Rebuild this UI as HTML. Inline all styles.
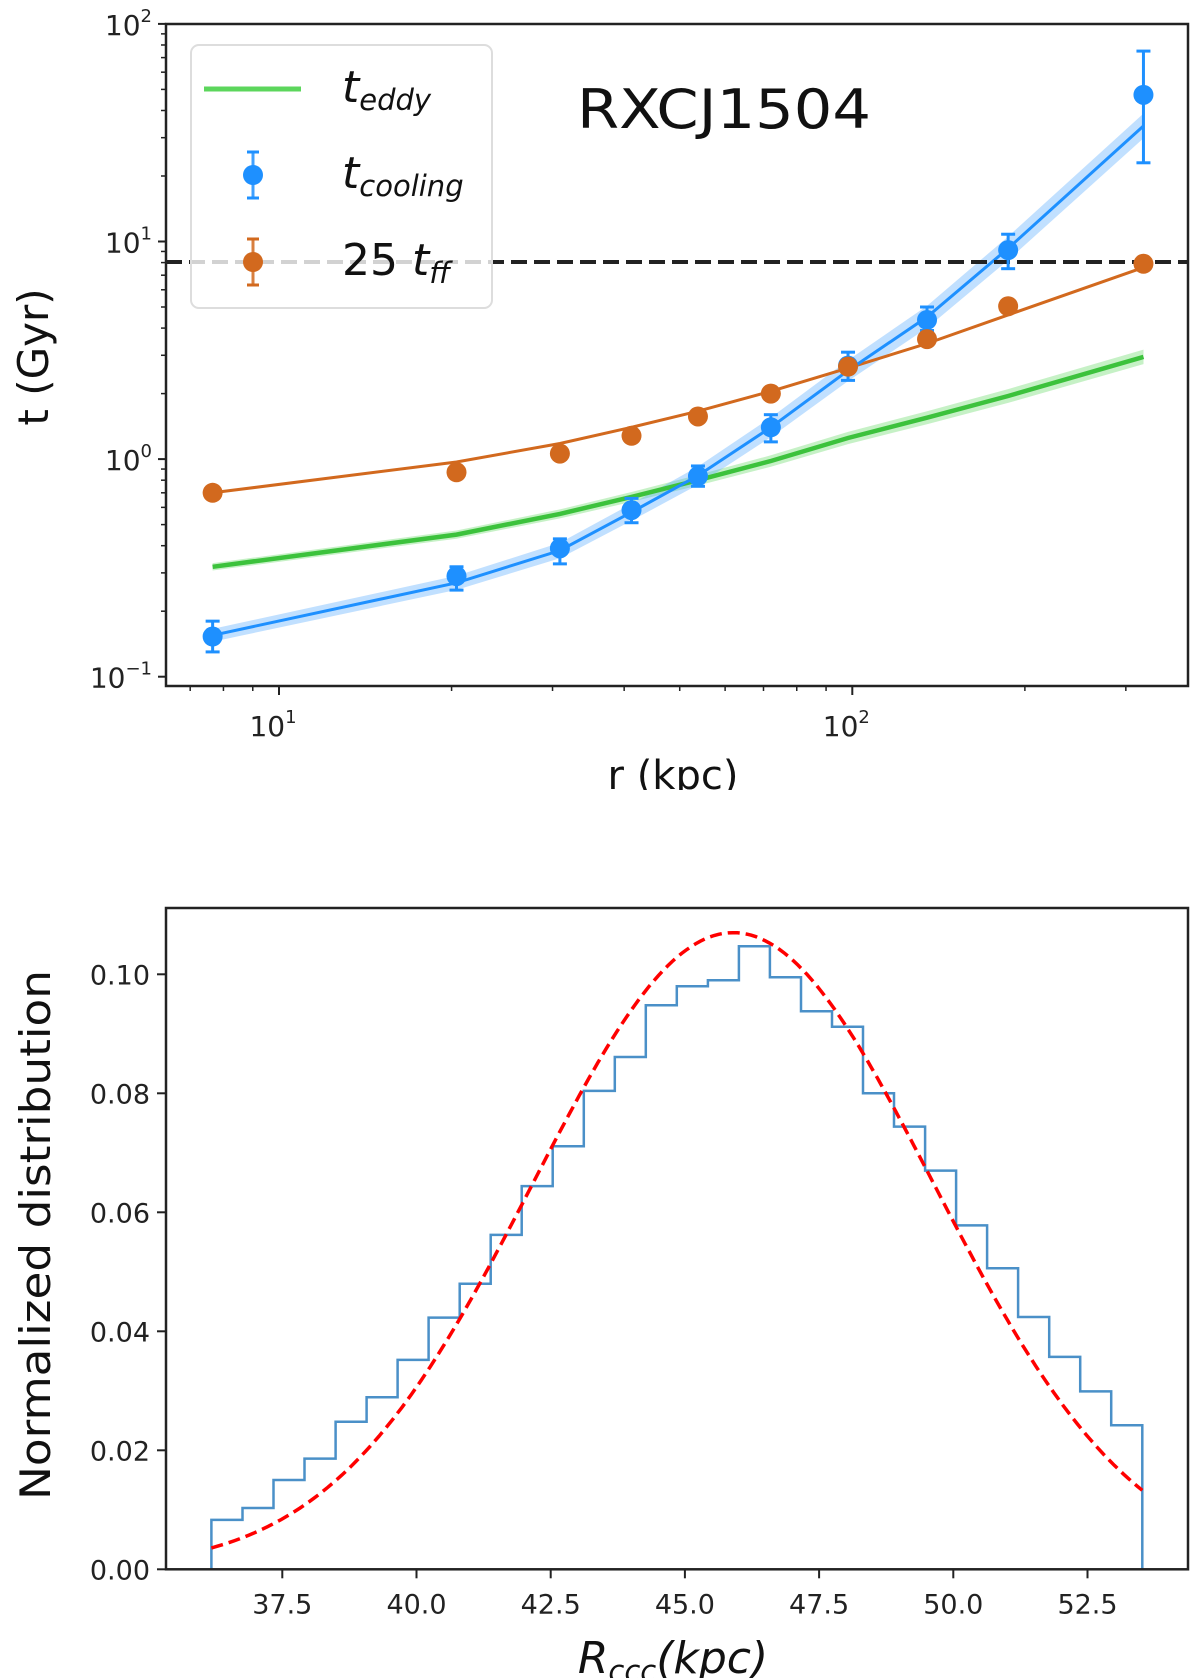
<!DOCTYPE html>
<html><head><meta charset="utf-8">
<style>
html,body{margin:0;padding:0;background:#fff;}
svg{display:block;font-family:"DejaVu Sans","Liberation Sans",sans-serif;}
</style></head>
<body>
<svg id="fig" width="1200" height="1678" viewBox="0 0 1200 1678" xmlns="http://www.w3.org/2000/svg">
<defs>
<clipPath id="topclip"><rect x="0" y="0" width="1200" height="790"/></clipPath>
<clipPath id="ax1clip"><rect x="166" y="24" width="1022" height="662"/></clipPath>
<clipPath id="ax2clip"><rect x="166" y="908" width="1022" height="662"/></clipPath>
</defs>
<g id="topchart"></g>
<g id="botchart"></g>
</svg>
<script>
// ---------- Top chart data ----------
const radii = [7.66, 20.4, 30.9, 41.2, 53.8, 72.1, 98.3, 135, 187, 322];
const coolPts = [0.153, 0.29, 0.389, 0.583, 0.835, 1.40, 2.69, 4.36, 9.13, 47.2];
const coolLo = [0.13, 0.25, 0.33, 0.51, 0.75, 1.2, 2.3, 3.9, 7.5, 23];
const coolHi = [0.18, 0.32, 0.43, 0.66, 0.93, 1.6, 3.1, 5.0, 10.8, 75];
const coolLine = [0.155, 0.27, 0.38, 0.57, 0.84, 1.4, 2.55, 4.5, 9.3, 34];
const ffPts = [0.70, 0.87, 1.06, 1.28, 1.57, 2.0, 2.66, 3.56, 5.04, 7.9];
const ffLine = [0.70, 0.97, 1.18, 1.40, 1.66, 2.05, 2.62, 3.4, 4.6, 7.6];
const eddyLine = [0.32, 0.45, 0.56, 0.67, 0.80, 0.98, 1.25, 1.55, 1.95, 2.95];
const thresholdT = [8.05];
const xTickLabels = ["10", "10"];
const xTickExps = ["1", "2"];
const yTickExps = ["2", "1", "0", "−1"];

// ---------- Bottom chart data ----------
const binStart = [36.18];
const binEnd = [53.52];
const histValues = [0.0083,0.0103,0.0150,0.0186,0.0248,0.0289,0.0352,0.0423,0.0480,0.0562,0.0644,0.0711,0.0804,0.0861,0.0948,0.0980,0.0990,0.1047,0.0995,0.0938,0.0912,0.0800,0.0744,0.0670,0.0578,0.0506,0.0424,0.0357,0.0299,0.0242];
const fitParams = [0.107, 45.9, 3.73]; // amplitude, mean, sigma of fitted gaussian
const xTicks2 = ["37.5","40.0","42.5","45.0","47.5","50.0","52.5"];
const yTicks2 = ["0.00","0.02","0.04","0.06","0.08","0.10"];

const NS = "http://www.w3.org/2000/svg";
function mk(parent, tag, attrs, text){
  const e = document.createElementNS(NS, tag);
  for (const k in attrs) e.setAttribute(k, attrs[k]);
  if (text !== undefined) e.textContent = text;
  parent.appendChild(e);
  return e;
}

// ---------- Top chart ----------
const topG = document.getElementById('topchart');
topG.setAttribute('clip-path','url(#topclip)');
const L1=166,R1=1188,T1=24,B1=686;
const X1 = r => 279 + (Math.log10(r)-1)*573.3;
const Y1 = t => 676.7 - (Math.log10(t)+1)*217.6;

const plot1 = mk(topG,'g',{'clip-path':'url(#ax1clip)'});



function pathFrom(xs, ys, X, Y){ return xs.map((x,i)=>(i?'L':'M')+X(x).toFixed(1)+','+Y(ys[i]).toFixed(1)).join(' '); }

function band(vals, color, frac, name){
  const up = radii.map((r,i)=>X1(r).toFixed(1)+','+Y1(vals[i]*(1+frac*(1+i/9))).toFixed(1));
  const dn = radii.map((r,i)=>X1(r).toFixed(1)+','+Y1(vals[i]/(1+frac*(1+i/9))).toFixed(1)).reverse();
  const p = mk(plot1,'polygon',{points:up.concat(dn).join(' '),fill:color,opacity:0.35});
  
  
}
band(eddyLine,'#5cd65c',0.04,'eddy-band');
band(coolLine,'#4da6ff',0.07,'cooling-band');

const le = mk(plot1,'path',{d:pathFrom(radii,eddyLine,X1,Y1),fill:'none',stroke:'#3cc23c','stroke-width':4.5});


const lf = mk(plot1,'path',{d:pathFrom(radii,ffLine,X1,Y1),fill:'none',stroke:'#d2691e','stroke-width':3});


const lc = mk(plot1,'path',{d:pathFrom(radii,coolLine,X1,Y1),fill:'none',stroke:'#1e90ff','stroke-width':3});



const th = mk(plot1,'line',{x1:L1,x2:R1,y1:Y1(thresholdT[0]),y2:Y1(thresholdT[0]),stroke:'#222','stroke-width':4,'stroke-dasharray':'16,7'});



radii.forEach((r,i)=>{
  const g = mk(plot1,'g',{});
  
  
  const x=X1(r);
  mk(g,'line',{x1:x,x2:x,y1:Y1(coolLo[i]),y2:Y1(coolHi[i]),stroke:'#1e90ff','stroke-width':3});
  mk(g,'line',{x1:x-7,x2:x+7,y1:Y1(coolLo[i]),y2:Y1(coolLo[i]),stroke:'#1e90ff','stroke-width':3});
  mk(g,'line',{x1:x-7,x2:x+7,y1:Y1(coolHi[i]),y2:Y1(coolHi[i]),stroke:'#1e90ff','stroke-width':3});
  mk(g,'circle',{cx:x,cy:Y1(coolPts[i]),r:10,fill:'#1e90ff'});
});
radii.forEach((r,i)=>{
  const c = mk(plot1,'circle',{cx:X1(r),cy:Y1(ffPts[i]),r:10,fill:'#d2691e'});
  
  
});

const fr1 = mk(topG,'rect',{x:L1,y:T1,width:R1-L1,height:B1-T1,fill:'none',stroke:'#222','stroke-width':2.5});



[2,1,0,-1].forEach((e,i)=>{
  const y=Y1(Math.pow(10,e));
  mk(topG,'line',{x1:L1-8,x2:L1,y1:y,y2:y,stroke:'#222','stroke-width':2});
  const t=mk(topG,'text',{x:L1-14,y:y+11,'text-anchor':'end','font-size':28,fill:'#222'});
  
  
  mk(t,'tspan',{},'10');
  mk(t,'tspan',{dy:-13,'font-size':18},yTickExps[i]);
  if(e>-1) for(let m=2;m<=9;m++){ const ym=Y1(Math.pow(10,e-1)*m); mk(topG,'line',{x1:L1-5,x2:L1,y1:ym,y2:ym,stroke:'#222','stroke-width':1.5}); }
});
[1,2].forEach((e,i)=>{
  const x=X1(Math.pow(10,e));
  mk(topG,'line',{x1:x,x2:x,y1:B1,y2:B1+9,stroke:'#222','stroke-width':2});
  const t=mk(topG,'text',{x:x-6,y:B1+50,'text-anchor':'middle','font-size':28,fill:'#222'});
  
  
  mk(t,'tspan',{},xTickLabels[i]);
  mk(t,'tspan',{dy:-13,'font-size':18},xTickExps[i]);
});
[7,8,9,20,30,40,50,60,70,80,90,200,300].forEach(v=>{
  const x=X1(v); if(x>L1) mk(topG,'line',{x1:x,x2:x,y1:B1,y2:B1+5,stroke:'#222','stroke-width':1.5});
});

const lg = mk(topG,'g',{});


mk(lg,'rect',{x:191,y:45,width:301,height:263,rx:8,fill:'#fff','fill-opacity':0.8,stroke:'#ddd','stroke-width':2});
mk(lg,'line',{x1:204,x2:301,y1:89,y2:89,stroke:'#5cd65c','stroke-width':5});
[['#1e90ff',175],['#d2691e',262]].forEach(([c,y])=>{
  mk(lg,'line',{x1:253,x2:253,y1:y-23,y2:y+23,stroke:c,'stroke-width':3,opacity:0.85});
  mk(lg,'line',{x1:247,x2:259,y1:y-23,y2:y-23,stroke:c,'stroke-width':3});
  mk(lg,'line',{x1:247,x2:259,y1:y+23,y2:y+23,stroke:c,'stroke-width':3});
  mk(lg,'circle',{cx:253,cy:y,r:10,fill:c});
});
function legText(y, pre, sub, name){
  const t=mk(lg,'text',{x:342,y:y,'font-size':44,fill:'#111'});
  
  
  if(pre) mk(t,'tspan',{},pre);
  mk(t,'tspan',{'font-style':'italic'},'t');
  mk(t,'tspan',{'font-style':'italic','font-size':29,dy:8},sub);
}
legText(102,'','eddy','legend-eddy');
legText(188,'','cooling','legend-cooling');
legText(275,'25 ','ff','legend-freefall');

const title = mk(topG,'text',{x:577,y:128,'font-size':54,fill:'#111',textLength:294,lengthAdjust:'spacingAndGlyphs'},'RXCJ1504');


const yl1 = mk(topG,'text',{x:0,y:0,'font-size':42,fill:'#111','text-anchor':'middle',transform:'translate(48,357) rotate(-90)'},'t (Gyr)');


const xl1 = mk(topG,'text',{x:673,y:789,'font-size':40,fill:'#111','text-anchor':'middle'},'r (kpc)');



// ---------- Bottom chart ----------
const botG = document.getElementById('botchart');
const L2=166,R2=1188,T2=908,B2=1569.3;
const X2 = v => 282.3 + (v-37.5)*53.68;
const Y2 = v => B2 - v*5950;
const plot2 = mk(botG,'g',{'clip-path':'url(#ax2clip)'});



const nBins = histValues.length;
const bw = (binEnd[0]-binStart[0])/nBins;
let hd = 'M'+X2(binStart[0]).toFixed(1)+','+B2;
histValues.forEach((v,i)=>{
  hd += ' L'+X2(binStart[0]+i*bw).toFixed(1)+','+Y2(v).toFixed(1)+' L'+X2(binStart[0]+(i+1)*bw).toFixed(1)+','+Y2(v).toFixed(1);
});
hd += ' L'+X2(binEnd[0]).toFixed(1)+','+B2;
const hist = mk(plot2,'path',{d:hd,fill:'none',stroke:'#4a90c8','stroke-width':2.5});



let fd='';
for(let k=0;k<=200;k++){
  const x = binStart[0] + (binEnd[0]-binStart[0])*k/200;
  const y = fitParams[0]*Math.exp(-Math.pow(x-fitParams[1],2)/(2*fitParams[2]*fitParams[2]));
  fd += (k?' L':'M')+X2(x).toFixed(1)+','+Y2(y).toFixed(1);
}
const fit = mk(plot2,'path',{d:fd,fill:'none',stroke:'#ff0000','stroke-width':3.5,'stroke-dasharray':'12,6'});



const fr2 = mk(botG,'rect',{x:L2,y:T2,width:R2-L2,height:B2-T2,fill:'none',stroke:'#222','stroke-width':2.5});



xTicks2.forEach(s=>{
  const x=X2(parseFloat(s));
  mk(botG,'line',{x1:x,x2:x,y1:B2,y2:B2+9,stroke:'#222','stroke-width':2});
  const t=mk(botG,'text',{x:x,y:B2+44,'text-anchor':'middle','font-size':27,fill:'#222'},s);
  
  
});
yTicks2.forEach(s=>{
  const y=Y2(parseFloat(s));
  mk(botG,'line',{x1:L2-9,x2:L2,y1:y,y2:y,stroke:'#222','stroke-width':2});
  const t=mk(botG,'text',{x:L2-16,y:y+10,'text-anchor':'end','font-size':27,fill:'#222'},s);
  
  
});
const yl2 = mk(botG,'text',{x:0,y:0,'font-size':42,fill:'#111','text-anchor':'middle',transform:'translate(50,1235) rotate(-90)',textLength:530,lengthAdjust:'spacingAndGlyphs'},'Normalized distribution');


const xl2 = mk(botG,'text',{x:673,y:1673,'font-size':44,fill:'#111','text-anchor':'middle','font-style':'italic'});


mk(xl2,'tspan',{},'R');
mk(xl2,'tspan',{'font-size':29,dy:8},'ccc');
mk(xl2,'tspan',{dy:-8},'(kpc)');
</script>
</body></html>
